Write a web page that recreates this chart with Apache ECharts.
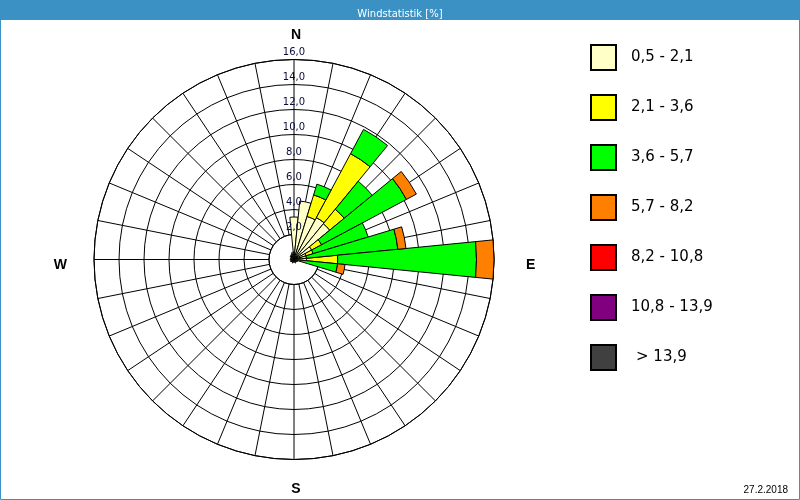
<!DOCTYPE html>
<html>
<head>
<meta charset="utf-8">
<script src="https://cdn.jsdelivr.net/npm/echarts@6/dist/echarts.min.js"></script>
<style>
html,body{margin:0;padding:0;background:#ffffff;}
#chart{width:800px;height:500px;}
</style>
</head>
<body>
<div id="chart"></div>
<script>
// ---- data ----
const directions = ['N','NzO','NNO','NOzN','NO','NOzO','ONO','OzN','O','OzS','OSO','SOzO','SO','SOzS','SSO','SzO',
                    'S','SzW','SSW','SWzS','SW','SWzW','WSW','WzS','W','WzN','WNW','NWzW','NW','NWzN','NNW','NzW'];
const classNames  = ['0,5 - 2,1','2,1 - 3,6','3,6 - 5,7','5,7 - 8,2','8,2 - 10,8','10,8 - 13,9','> 13,9'];
const classColors = ['#ffffc8','#ffff00','#00ff00','#ff8000','#ff0000','#800080','#404040'];
// percent per direction for each wind speed class
const speed05to21 = [3.4,4.7,3.6,3.8,3.7,1.6,1.0,0.5,1.0,0.2,0.3,0.3,0.2,0.2,0.3,0.2,0.2,0.2,0.3,0.2,0.2,0.3,0.3,0.2,0.3,0.3,0.2,0.3,0.4,0.4,0.5,0.6];
const speed21to36 = [0,0,1.8,5.8,1.5,0.9,0.6,0.5,2.5,0.3,0,0,0,0,0,0,0,0,0,0,0,0,0,0,0,0,0,0,0,0,0,0];
const speed36to57 = [0,0,0.9,2.2,2.9,7.7,4.6,7.35,11.1,3.0,0,0,0,0,0,0,0,0,0,0,0,0,0,0,0,0,0,0,0,0,0,0];
const speed57to82 = [0,0,0,0,0,0.9,0,0.65,1.4,0.6,0,0,0,0,0,0,0,0,0,0,0,0,0,0,0,0,0,0,0,0,0,0];
const speed82to108 = [0,0,0,0,0,0,0,0,0,0,0,0,0,0,0,0,0,0,0,0,0,0,0,0,0,0,0,0,0,0,0,0];
const speed108to139 = [0,0,0,0,0,0,0,0,0,0,0,0,0,0,0,0,0,0,0,0,0,0,0,0,0,0,0,0,0,0,0,0];
const speedOver139 = [0,0,0,0,0,0,0,0,0,0,0,0,0,0,0,0,0,0,0,0,0,0,0,0,0,0,0,0,0,0,0,0];
const radialMin = 2, radialMax = 16, radialStep = 2;
const compassLabels = ['N','E','S','W'];
const chartTitle = 'Windstatistik [%]';
const chartDate = '27.2.2018';

const classData = [speed05to21, speed21to36, speed36to57, speed57to82, speed82to108, speed108to139, speedOver139];

// ---- chart ----
const chart = echarts.init(document.getElementById('chart'), null, {renderer:'canvas'});
const center = [294, 259.5];
const sector = 360 / directions.length;
const blue = '#3c91c4';

const series = classNames.map((name, i) => ({
  name: name,
  type: 'bar',
  coordinateSystem: 'polar',
  polarIndex: 1,
  stack: 'wind',
  barWidth: '100%',
  itemStyle: {color: classColors[i], borderColor: '#000', borderWidth: 1},
  emphasis: {disabled: true},
  data: classData[i].map(v => v > 0 ? v : '-')
}));

const compassMap = {0:'n', 90:'e', 180:'s', 270:'w'};

chart.setOption({
  animation: false,
  backgroundColor: '#ffffff',
  title: [
    {text: chartTitle, left: 'center', top: 4,
     textStyle: {color: '#ffffff', fontSize: 10, fontWeight: 'normal', fontFamily: 'DejaVu Sans'}},
    {text: chartDate, right: 7, bottom: 0,
     textStyle: {color: '#000000', fontSize: 10, fontWeight: 'normal', fontFamily: 'Liberation Sans'}}
  ],
  graphic: [
    {type: 'rect', z: -10, shape: {x: 0, y: 0, width: 800, height: 20}, style: {fill: blue}},
    {type: 'rect', z: -10, shape: {x: 0.5, y: 0.5, width: 799, height: 499}, style: {fill: null, stroke: blue, lineWidth: 1}}
  ],
  legend: {
    orient: 'vertical', left: 585, top: 39,
    itemWidth: 25, itemHeight: 25, itemGap: 23,
    icon: 'rect',
    selectedMode: false,
    textStyle: {fontSize: 15, color: '#000', fontFamily: 'DejaVu Sans', padding: [0,0,0,10]},
    data: classNames.map((n, i) => i === classNames.length - 1
      ? {name: n, textStyle: {padding: [0,0,0,15]}} : {name: n})
  },
  polar: [
    {center: center, radius: [25, 200]},
    {center: center, radius: [0, 200]},
    {center: center, radius: [0, 200]}
  ],
  angleAxis: [
    {polarIndex: 0, type: 'value', min: 0, max: 360, interval: sector, startAngle: 90, clockwise: true,
     axisLine: {show: true, lineStyle: {color: '#000', width: 1}},
     axisTick: {show: false},
     splitLine: {show: true, lineStyle: {color: '#000', width: 1}},
     axisLabel: {
       show: true, margin: 17,
       formatter: v => compassMap[v] !== undefined ? '{' + compassMap[v] + '|' + compassLabels[[0,90,180,270].indexOf(v)] + '}' : '',
       rich: {
         n: {fontSize: 14, fontWeight: 'bold', color: '#000', fontFamily: 'Liberation Sans', padding: [0,0,0,4]},
         s: {fontSize: 14, fontWeight: 'bold', color: '#000', fontFamily: 'Liberation Sans', padding: [6,0,0,4]},
         e: {fontSize: 14, fontWeight: 'bold', color: '#000', fontFamily: 'Liberation Sans', padding: [11,0,0,15]},
         w: {fontSize: 14, fontWeight: 'bold', color: '#000', fontFamily: 'Liberation Sans', padding: [12,10,0,0]}
       }
     }},
    {polarIndex: 1, type: 'category', data: directions, startAngle: 90 + sector / 2, clockwise: true, show: false},
    {polarIndex: 2, type: 'value', min: 0, max: 360, startAngle: 90, show: false}
  ],
  radiusAxis: [
    {polarIndex: 0, type: 'value', min: radialMin, max: radialMax, interval: radialStep,
     axisLine: {show: false}, axisTick: {show: false}, axisLabel: {show: false},
     splitLine: {show: true, lineStyle: {color: '#000', width: 1}}},
    {polarIndex: 1, type: 'value', min: 0, max: radialMax, show: false},
    {polarIndex: 2, type: 'value', min: 0, max: radialMax, interval: radialStep, z: 10,
     axisLine: {show: false}, axisTick: {show: false}, splitLine: {show: false},
     axisLabel: {show: true, margin: 0, showMinLabel: false, align: 'center', verticalAlign: 'bottom',
       padding: [0,0,2,0],
       fontSize: 10, color: '#0a0a3c', fontFamily: 'DejaVu Sans',
       formatter: v => v.toFixed(1).replace('.', ',')}}
  ],
  series: series
});
</script>
</body>
</html>
